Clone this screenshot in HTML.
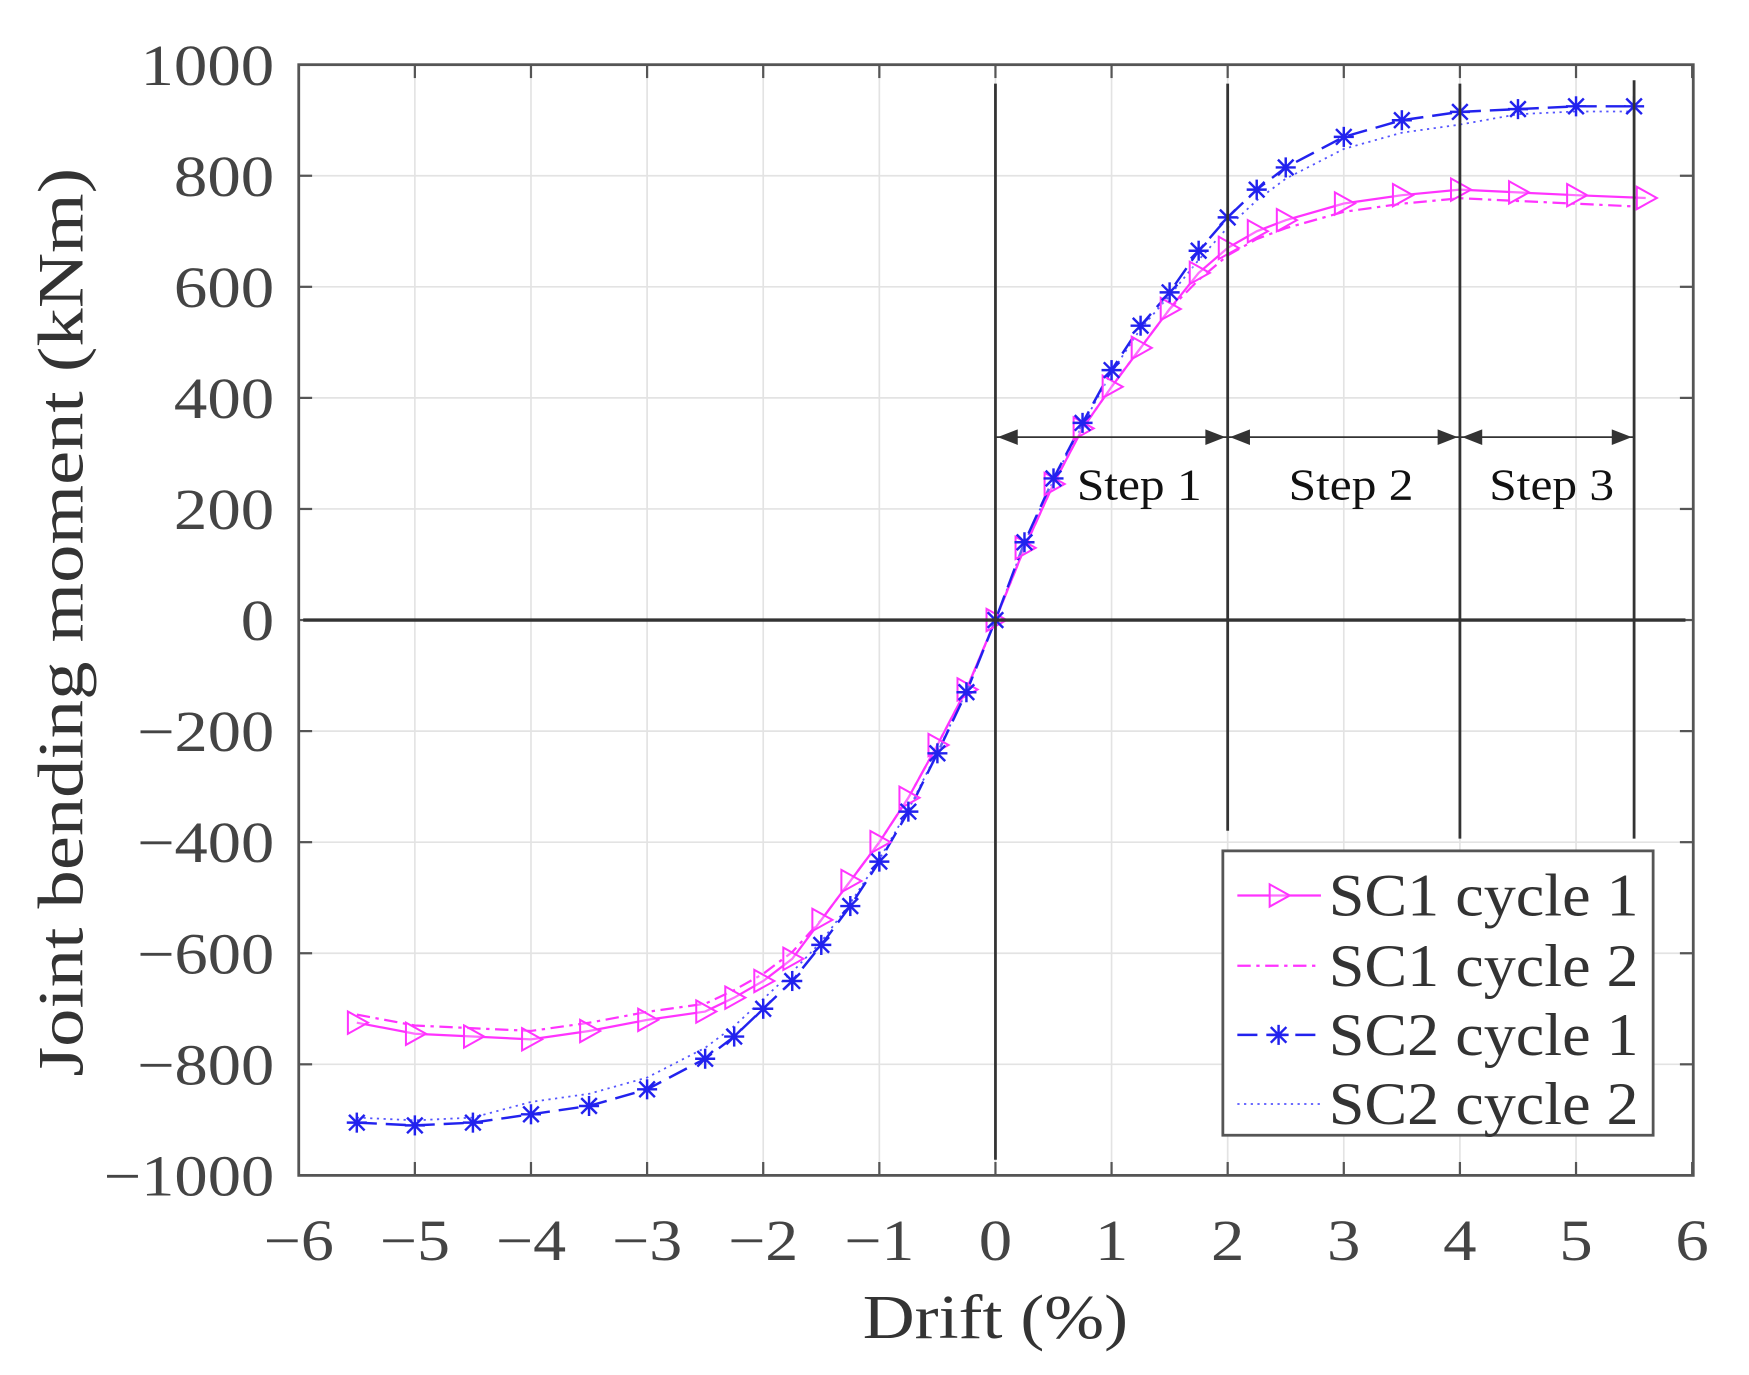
<!DOCTYPE html>
<html><head><meta charset="utf-8"><style>
html,body{margin:0;padding:0;background:#fff;}
svg{display:block;}
text{font-family:"Liberation Serif",serif;}
</style></head><body>
<svg id="s" width="1749" height="1375" viewBox="0 0 1569 1233" preserveAspectRatio="none" xmlns="http://www.w3.org/2000/svg">
<rect width="1569" height="1233" fill="#fff"/>
<g id="g"></g>
</svg>
<script>
const g=document.getElementById('g');
const X=d=>268+(d+6)*1250/12, Y=v=>58+(1000-v)*996/2000;
let h='';
const tl=s=>{let n=0;for(const c of s)n+=(c=='−'?33:30);return n;};
for(let d=-5;d<=5;d++) h+=`<line x1="${X(d)}" y1="58" x2="${X(d)}" y2="1054" stroke="#e3e3e3" stroke-width="1.5"/>`;
for(let v=-800;v<=800;v+=200) h+=`<line x1="268" y1="${Y(v)}" x2="1519" y2="${Y(v)}" stroke="#e3e3e3" stroke-width="1.5"/>`;
h+=`<rect x="268" y="58" width="1251" height="996" fill="none" stroke="#555" stroke-width="2.5"/>`;
for(let d=-6;d<=6;d++){h+=`<line x1="${X(d)}" y1="1054" x2="${X(d)}" y2="1042" stroke="#555" stroke-width="2"/><line x1="${X(d)}" y1="58" x2="${X(d)}" y2="70" stroke="#555" stroke-width="2"/>`;
 const s=d<0?'−'+(-d):''+d;
 h+=`<text x="${X(d)}" y="1130" font-size="52" fill="#444" text-anchor="middle" textLength="${tl(s)}" lengthAdjust="spacingAndGlyphs">${s}</text>`;}
for(let v=-1000;v<=1000;v+=200){h+=`<line x1="268" y1="${Y(v)}" x2="280" y2="${Y(v)}" stroke="#555" stroke-width="2"/><line x1="1507" y1="${Y(v)}" x2="1519" y2="${Y(v)}" stroke="#555" stroke-width="2"/>`;
 const s=v<0?'−'+(-v):''+v;
 h+=`<text x="246" y="${Y(v)+18}" font-size="52" fill="#444" text-anchor="end" textLength="${tl(s)}" lengthAdjust="spacingAndGlyphs">${s}</text>`;}
h+=`<text x="893" y="1200" font-size="56" fill="#333" text-anchor="middle" textLength="238" lengthAdjust="spacingAndGlyphs">Drift (%)</text>`;
h+=`<text transform="translate(74,558) rotate(-90)" font-size="58" fill="#333" text-anchor="middle" textLength="815" lengthAdjust="spacingAndGlyphs">Joint bending moment (kNm)</text>`;
const xs=[-5.5,-5,-4.5,-4,-3.5,-3,-2.5,-2.25,-2,-1.75,-1.5,-1.25,-1,-0.75,-0.5,-0.25,0,0.25,0.5,0.75,1,1.25,1.5,1.75,2,2.25,2.5,3,3.5,4,4.5,5,5.5];
const sc1=[-725,-745,-750,-755,-740,-720,-705,-680,-650,-610,-540,-470,-400,-320,-225,-125,0,130,245,345,420,490,560,625,670,700,720,750,765,775,770,765,760];
const sc2=[-905,-910,-905,-890,-875,-845,-790,-750,-700,-650,-585,-515,-435,-345,-240,-130,0,140,255,355,450,530,590,665,725,775,815,870,900,915,920,925,925];
const pts=a=>xs.map((x,i)=>[X(x),Y(a[i])]);
const pl=(p,c,da,w)=>`<polyline points="${p.map(q=>q.join(',')).join(' ')}" fill="none" stroke="${c}" stroke-width="${w||2}" ${da?`stroke-dasharray="${da}"`:''}/>`;
const mag='#ff33ff',blu='#2222ee';
const sc1b=sc1.map((v,i)=>v*(Math.abs(xs[i])>1.5?0.98:1.0));
const sc2b=sc2.map((v,i)=>v*(Math.abs(xs[i])>1.5&&Math.abs(xs[i])<4.5?0.975:0.99));
h+=pl(pts(sc1b),mag,'12,5,3,5');
h+=pl(pts(sc2b),'#5555ff','2,4',1.6);
const p1=xs.map((x,i)=>[X(x===5.5?5.6:x),Y(sc1[i])]);
h+=pl(p1,mag);
h+=pl(pts(sc2),blu,'18,8',2.2);
const tri=(x,y)=>`<polygon points="${x-8},${y-10} ${x+10},${y} ${x-8},${y+10}" fill="#fff" fill-opacity="0.3" stroke="${mag}" stroke-width="1.8"/>`;
const star=(x,y)=>`<g stroke="${blu}" stroke-width="2.2"><line x1="${x-9}" y1="${y}" x2="${x+9}" y2="${y}"/><line x1="${x}" y1="${y-9}" x2="${x}" y2="${y+9}"/><line x1="${x-7}" y1="${y-7}" x2="${x+7}" y2="${y+7}"/><line x1="${x-7}" y1="${y+7}" x2="${x+7}" y2="${y-7}"/></g>`;
p1.forEach(p=>h+=tri(p[0],p[1]));
pts(sc2).forEach(p=>h+=star(p[0],p[1]));
h+=`<line x1="272" y1="${Y(0)}" x2="1512" y2="${Y(0)}" stroke="#333" stroke-width="3"/>`;
h+=`<line x1="${X(0)}" y1="75" x2="${X(0)}" y2="1040" stroke="#333" stroke-width="2.5"/>`;
h+=`<line x1="${X(2)}" y1="75" x2="${X(2)}" y2="745" stroke="#333" stroke-width="2.5"/>`;
h+=`<line x1="${X(4)}" y1="75" x2="${X(4)}" y2="752" stroke="#333" stroke-width="2.5"/>`;
h+=`<line x1="${X(5.5)}" y1="72" x2="${X(5.5)}" y2="752" stroke="#333" stroke-width="2.5"/>`;
const arr=(a,b)=>{const y=392;return `<line x1="${a}" y1="${y}" x2="${b}" y2="${y}" stroke="#333" stroke-width="1.5"/><polygon points="${a+2},${y} ${a+20},${y-7} ${a+20},${y+7}" fill="#333"/><polygon points="${b-2},${y} ${b-20},${y-7} ${b-20},${y+7}" fill="#333"/>`;};
h+=arr(X(0),X(2))+arr(X(2),X(4))+arr(X(4),X(5.5));
[['Step 1',1022],['Step 2',1212],['Step 3',1392]].forEach(([t,x])=>h+=`<text x="${x}" y="448" font-size="40" fill="#111" text-anchor="middle" textLength="112" lengthAdjust="spacingAndGlyphs">${t}</text>`);
h+=`<rect x="1097" y="763" width="386" height="255" fill="#fff" stroke="#555" stroke-width="2.5"/>`;
const ly=[803,866,928,990];
const lab=['SC1 cycle 1','SC1 cycle 2','SC2 cycle 1','SC2 cycle 2'];
h+=`<line x1="1110" y1="${ly[0]}" x2="1185" y2="${ly[0]}" stroke="${mag}" stroke-width="2"/>`+tri(1147,ly[0]);
h+=`<line x1="1110" y1="${ly[1]}" x2="1185" y2="${ly[1]}" stroke="${mag}" stroke-width="2" stroke-dasharray="12,5,3,5"/>`;
h+=`<line x1="1110" y1="${ly[2]}" x2="1185" y2="${ly[2]}" stroke="${blu}" stroke-width="2.2" stroke-dasharray="18,8"/>`+star(1147,ly[2]);
h+=`<line x1="1110" y1="${ly[3]}" x2="1185" y2="${ly[3]}" stroke="#5555ff" stroke-width="1.6" stroke-dasharray="2,4"/>`;
lab.forEach((t,i)=>h+=`<text x="1192" y="${ly[i]+18}" font-size="54" fill="#333" textLength="278" lengthAdjust="spacingAndGlyphs">${t}</text>`);
g.innerHTML=h;
</script>
</body></html>
